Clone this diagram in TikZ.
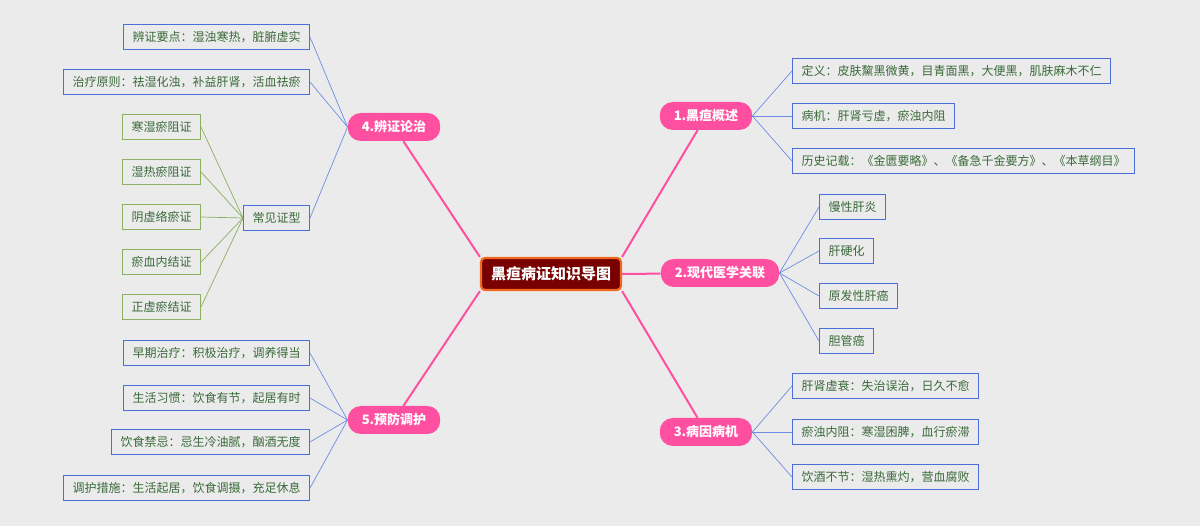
\documentclass[tikz,border=0pt]{standalone}
\usepackage{fontspec}
\setmainfont{Noto Sans CJK SC}
\definecolor{bg}{HTML}{EBEBEB}
\definecolor{leaftxt}{HTML}{3A6A3A}
\definecolor{leafblue}{HTML}{4A6FDC}
\definecolor{leafgreen}{HTML}{8AB060}
\definecolor{pinkb}{HTML}{FF4FA0}
\definecolor{maroon}{HTML}{780000}
\definecolor{orangeb}{HTML}{F06A20}
\tikzset{
 leaf/.style={draw=leafblue,fill=bg,text=leaftxt,font=\fontsize{12}{14}\selectfont,minimum height=25pt,inner xsep=9pt,inner ysep=0pt,line width=1pt},
 gleaf/.style={leaf,draw=leafgreen},
 branch/.style={fill=pinkb,text=white,font=\bfseries\fontsize{13}{15}\selectfont,rounded corners=13pt,minimum height=28pt,inner xsep=14pt},
 root/.style={fill=maroon,draw=orangeb,line width=2.2pt,text=white,font=\bfseries\fontsize{15}{17}\selectfont,rounded corners=4pt,minimum height=32pt,inner xsep=10pt},
 blink/.style={draw=leafblue!80,line width=0.7pt},
 glink/.style={draw=leafgreen,line width=0.7pt},
 plink/.style={draw=pinkb,line width=2pt},
}
\begin{document}
\begin{tikzpicture}[x=1pt,y=-1pt]
\fill[bg] (0,0) rectangle (1200,526);
\useasboundingbox (0,0) rectangle (1200,526);
\node[root] (c) at (551,274) {黑疸病证知识导图};
\node[branch] (b1) at (706,116) {1.黑疸概述};
\node[branch] (b2) at (720,273) {2.现代医学关联};
\node[branch] (b3) at (706,432) {3.病因病机};
\node[branch] (b4) at (394,127) {4.辨证论治};
\node[branch] (b5) at (394,420) {5.预防调护};
\foreach \b/\a in {b1/north east,b2/east,b3/south east,b4/north west,b5/south west}
  \draw[plink] (c.\a) -- (\b);
% branch 1
\node[leaf,anchor=west] (l11) at (792,71) {定义：皮肤黧黑微黄，目青面黑，大便黑，肌肤麻木不仁};
\node[leaf,anchor=west] (l12) at (792,116) {病机：肝肾亏虚，瘀浊内阻};
\node[leaf,anchor=west] (l13) at (792,161) {历史记载：《金匮要略》、《备急千金要方》、《本草纲目》};
% branch 2
\node[leaf,anchor=west] (l21) at (819,207) {慢性肝炎};
\node[leaf,anchor=west] (l22) at (819,251) {肝硬化};
\node[leaf,anchor=west] (l23) at (819,296) {原发性肝癌};
\node[leaf,anchor=west] (l24) at (819,341) {胆管癌};
% branch 3
\node[leaf,anchor=west] (l31) at (792,386) {肝肾虚衰：失治误治，日久不愈};
\node[leaf,anchor=west] (l32) at (792,432) {瘀浊内阻：寒湿困脾，血行瘀滞};
\node[leaf,anchor=west] (l33) at (792,477) {饮酒不节：湿热熏灼，营血腐败};
\foreach \l in {l11,l12,l13} \draw[blink] (b1.east) -- (\l.west);
\foreach \l in {l21,l22,l23,l24} \draw[blink] (b2.east) -- (\l.west);
\foreach \l in {l31,l32,l33} \draw[blink] (b3.east) -- (\l.west);
% branch 4
\node[leaf,anchor=east] (l41) at (310,37) {辨证要点：湿浊寒热，脏腑虚实};
\node[leaf,anchor=east] (l42) at (310,82) {治疗原则：祛湿化浊，补益肝肾，活血祛瘀};
\node[leaf,anchor=east] (l43) at (310,218) {常见证型};
\foreach \y/\t [count=\i] in {127/寒湿瘀阻证,172/湿热瘀阻证,217/阴虚络瘀证,262/瘀血内结证,307/正虚瘀结证}{
  \node[gleaf,anchor=east] (g\i) at (201,\y) {\t};
  \draw[glink] (g\i.east) -- (l43.west);
}
\foreach \l in {l41,l42,l43} \draw[blink] (\l.east) -- (b4.west);
% branch 5
\node[leaf,anchor=east] (l51) at (310,353) {早期治疗：积极治疗，调养得当};
\node[leaf,anchor=east] (l52) at (310,398) {生活习惯：饮食有节，起居有时};
\node[leaf,anchor=east] (l53) at (310,442) {饮食禁忌：忌生冷油腻，酗酒无度};
\node[leaf,anchor=east] (l54) at (310,488) {调护措施：生活起居，饮食调摄，充足休息};
\foreach \l in {l51,l52,l53,l54} \draw[blink] (\l.east) -- (b5.west);
\end{tikzpicture}
\end{document}
